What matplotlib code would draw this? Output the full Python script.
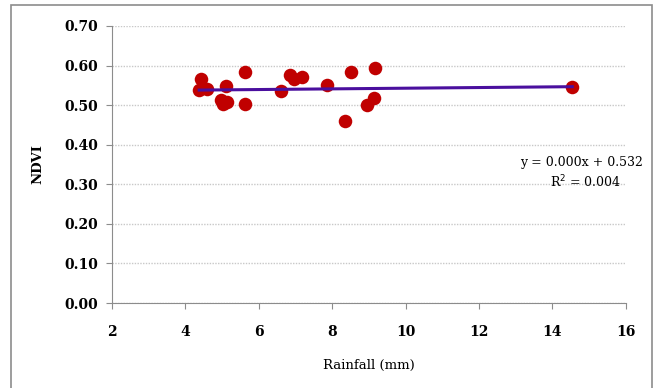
import numpy as np
import matplotlib
matplotlib.use('Agg')
from matplotlib import pyplot as plt
from matplotlib.patches import Rectangle

# rainfall (mm) vs NDVI per site
rainfall = [4.44, 4.38, 4.60, 5.11, 4.98, 5.03, 5.14, 5.62, 5.64, 6.62, 6.85,
            6.96, 7.17, 7.85, 8.35, 8.51, 8.96, 9.15, 9.18, 14.54]
ndvi = [0.567, 0.538, 0.540, 0.548, 0.514, 0.502, 0.508, 0.583, 0.503, 0.535, 0.576,
        0.567, 0.572, 0.552, 0.461, 0.584, 0.500, 0.517, 0.593, 0.545]

x_ticks = [2, 4, 6, 8, 10, 12, 14, 16]
y_ticks = [0.0, 0.1, 0.2, 0.3, 0.4, 0.5, 0.6, 0.7]

plt.rcParams['font.family'] = ['DejaVu Serif']

fig = plt.figure(figsize=(6.54, 3.88), dpi=100)
ax = fig.add_axes([0.171, 0.219, 0.786, 0.714])

# chart frame
fig.patches.append(Rectangle((11 / 654, -0.05), 641 / 654, 1.05 - 5 / 388,
                             transform=fig.transFigure, fill=False,
                             edgecolor='#8c8c8c', linewidth=1.2))

ax.scatter(rainfall, ndvi, s=95, color='#c00000', zorder=3, linewidths=0)

# linear trendline
slope, intercept = np.polyfit(rainfall, ndvi, 1)
xs = np.array([min(rainfall), max(rainfall)])
ax.plot(xs, slope * xs + intercept, color='#4a0f9e', linewidth=2.2, zorder=4)

ax.set_xlim(2, 16)
ax.set_ylim(0, 0.7)
ax.set_xticks(x_ticks)
ax.set_yticks(y_ticks)
ax.set_yticklabels([f'{v:.2f}' for v in y_ticks])
ax.grid(axis='y', color='#c8c8c8', linestyle=(0, (1, 1)), linewidth=1)
ax.set_axisbelow(True)

for side in ['top', 'right']:
    ax.spines[side].set_visible(False)
for side in ['left', 'bottom']:
    ax.spines[side].set_color('#8c8c8c')
ax.tick_params(axis='both', direction='out', length=4, color='#8c8c8c',
               labelsize=10, pad=6)
ax.tick_params(axis='x', pad=12)
for lbl in ax.get_xticklabels() + ax.get_yticklabels():
    lbl.set_fontweight('bold')

ax.set_xlabel('Rainfall (mm)', fontsize=9.5, labelpad=14)
ax.set_ylabel('NDVI', fontsize=9.5, fontweight='bold', labelpad=14)

ax.text(16.47, 0.356, 'y = 0.000x + 0.532', ha='right', va='center',
        fontsize=9, clip_on=False)
ax.text(14.9, 0.305, 'R$^2$ = 0.004', ha='center', va='center', fontsize=9)

fig.savefig('out.png', dpi=100)
